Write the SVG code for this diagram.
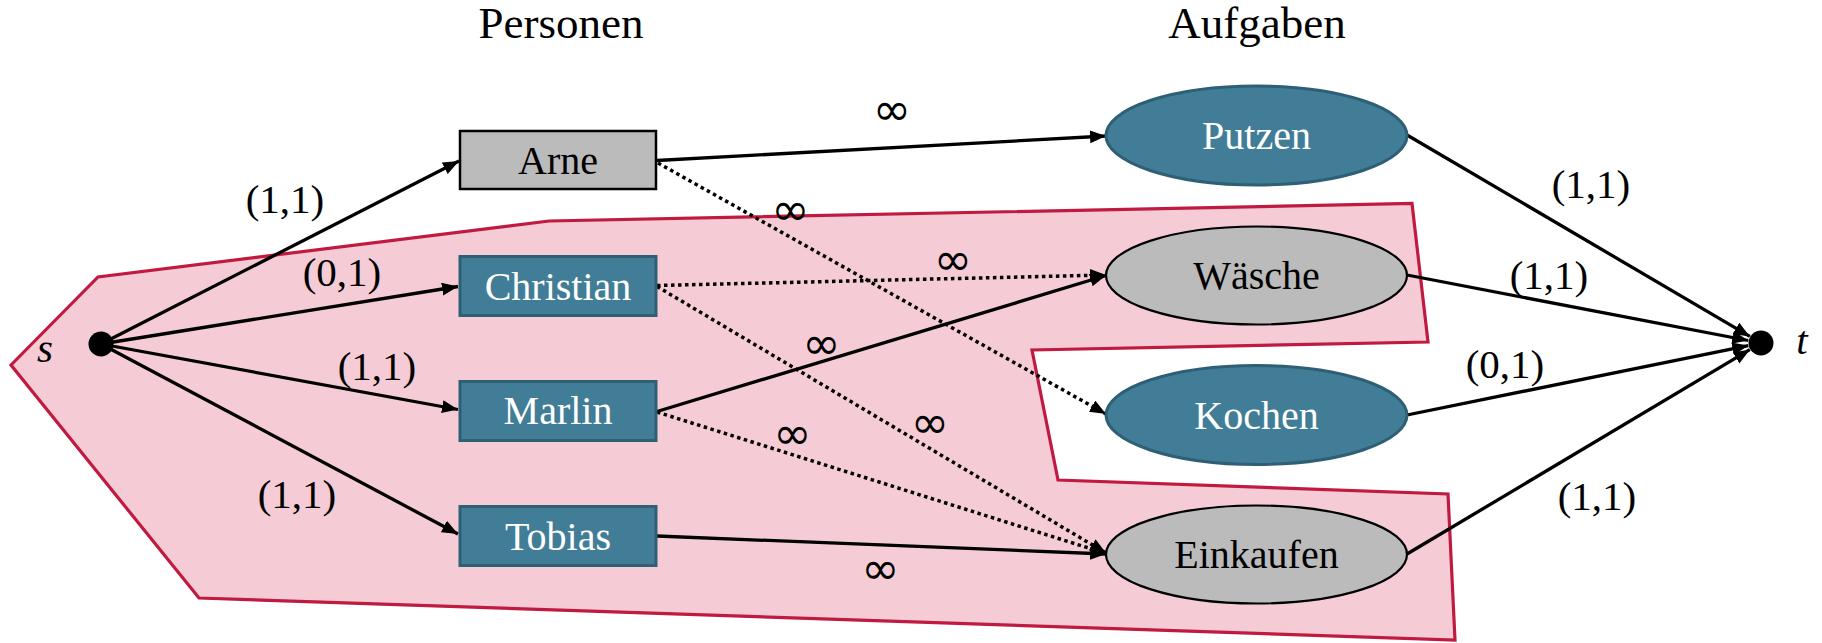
<svg xmlns="http://www.w3.org/2000/svg" width="1822" height="643" viewBox="0 0 1822 643">
<defs>
<style>
.t{font-family:"Liberation Serif","DejaVu Serif",serif;text-anchor:middle}
.title{font-size:45px;fill:#000}
.lbl{font-size:41px;fill:#000}
.inf{font-family:"DejaVu Sans",sans-serif;text-anchor:middle;font-size:46px;fill:#000}
.nt{font-size:40px}
.w{fill:#fff}
.k{fill:#000}
.blue{fill:#417d97;stroke:#2e5f75;stroke-width:3}
.grey{fill:#bbbbbb;stroke:#000;stroke-width:2.5}
.e{fill:none;stroke:#000;stroke-width:3.3}
.d{fill:none;stroke:#000;stroke-width:3.5;stroke-dasharray:3.5 3.5}
.it{font-style:italic;font-size:41px}
</style>
<marker id="ah" markerUnits="userSpaceOnUse" markerWidth="17" markerHeight="14" refX="16" refY="6.5" orient="auto" viewBox="0 0 17 14">
<path d="M0,0 L16,6.5 L0,13 z" fill="#000"/>
</marker>
</defs>
<rect width="1822" height="643" fill="#fff"/>
<polygon id="cut" points="11,365 98,277 549,221 1412,203.5 1428,342 1032,350 1058,480 1448,494 1455,640 199,598" fill="#f5ccd5" stroke="#c01a40" stroke-width="3.2" stroke-linejoin="miter"/>
<text class="t title" x="561" y="38">Personen</text>
<text class="t title" x="1257" y="38">Aufgaben</text>
<g id="connectors">
<line class="e" x1="101" y1="344" x2="459" y2="161" marker-end="url(#ah)"/>
<line class="e" x1="101" y1="344" x2="458" y2="286.5" marker-end="url(#ah)"/>
<line class="e" x1="101" y1="344" x2="458" y2="409.5" marker-end="url(#ah)"/>
<line class="e" x1="101" y1="344" x2="458" y2="534" marker-end="url(#ah)"/>
<line class="e" x1="657" y1="160.5" x2="1106" y2="136" marker-end="url(#ah)"/>
<line class="d" x1="658" y1="163" x2="1106" y2="414" marker-end="url(#ah)"/>
<line class="d" x1="657" y1="285.5" x2="1106" y2="275" marker-end="url(#ah)"/>
<line class="d" x1="657" y1="286.5" x2="1106" y2="553" marker-end="url(#ah)"/>
<line class="e" x1="657" y1="411.5" x2="1106" y2="275.5" marker-end="url(#ah)"/>
<line class="d" x1="657" y1="412" x2="1106" y2="553.5" marker-end="url(#ah)"/>
<line class="e" x1="657" y1="536" x2="1106" y2="554" marker-end="url(#ah)"/>
<line class="e" x1="1407" y1="135" x2="1749.8" y2="336.4" marker-end="url(#ah)"/>
<line class="e" x1="1407" y1="275" x2="1748.2" y2="340.5" marker-end="url(#ah)"/>
<line class="e" x1="1407" y1="415" x2="1748.3" y2="345.6" marker-end="url(#ah)"/>
<line class="e" x1="1407" y1="554" x2="1749.8" y2="349.7" marker-end="url(#ah)"/>
</g>
<g id="node-s"><circle cx="101" cy="344" r="12.5" fill="#000"/><text class="t it" x="45" y="362">s</text></g>
<g id="node-t"><circle cx="1761" cy="343" r="12.5" fill="#000"/><text class="t it" x="1802" y="354">t</text></g>
<g id="node-arne"><rect class="grey" x="460" y="131" width="196" height="58"/><text class="t nt k" x="558" y="174">Arne</text></g>
<g id="node-christian"><rect class="blue" x="460" y="256.5" width="196" height="59"/><text class="t nt w" x="558" y="300">Christian</text></g>
<g id="node-marlin"><rect class="blue" x="460" y="381.5" width="196" height="59"/><text class="t nt w" x="558" y="424">Marlin</text></g>
<g id="node-tobias"><rect class="blue" x="460" y="506.5" width="196" height="59"/><text class="t nt w" x="558" y="550">Tobias</text></g>
<g id="node-putzen"><ellipse class="blue" cx="1256.5" cy="135.5" rx="150.5" ry="49.5"/><text class="t nt w" x="1256.5" y="148.5">Putzen</text></g>
<g id="node-waesche"><ellipse class="grey" style="stroke-width:2.2" cx="1256.5" cy="275.5" rx="150.5" ry="49"/><text class="t nt k" x="1256.5" y="288.5">Wäsche</text></g>
<g id="node-kochen"><ellipse class="blue" cx="1256.5" cy="415" rx="150.5" ry="49.5"/><text class="t nt w" x="1256.5" y="428.5">Kochen</text></g>
<g id="node-einkaufen"><ellipse class="grey" style="stroke-width:2.2" cx="1256.5" cy="554.5" rx="150.5" ry="49"/><text class="t nt k" x="1256.5" y="568">Einkaufen</text></g>
<g id="labels">
<text class="t lbl" x="285" y="213">(1,1)</text>
<text class="t lbl" x="342" y="286">(0,1)</text>
<text class="t lbl" x="377" y="380">(1,1)</text>
<text class="t lbl" x="297" y="508">(1,1)</text>
<text class="t lbl" x="1591" y="198">(1,1)</text>
<text class="t lbl" x="1549" y="289">(1,1)</text>
<text class="t lbl" x="1505" y="378">(0,1)</text>
<text class="t lbl" x="1597" y="510">(1,1)</text>
<text class="inf" x="892" y="125">∞</text>
<text class="inf" x="790.5" y="225">∞</text>
<text class="inf" x="953" y="275">∞</text>
<text class="inf" x="821.5" y="359">∞</text>
<text class="inf" x="930" y="437.5">∞</text>
<text class="inf" x="792.5" y="449">∞</text>
<text class="inf" x="880.5" y="584">∞</text>
</g>
</svg>
